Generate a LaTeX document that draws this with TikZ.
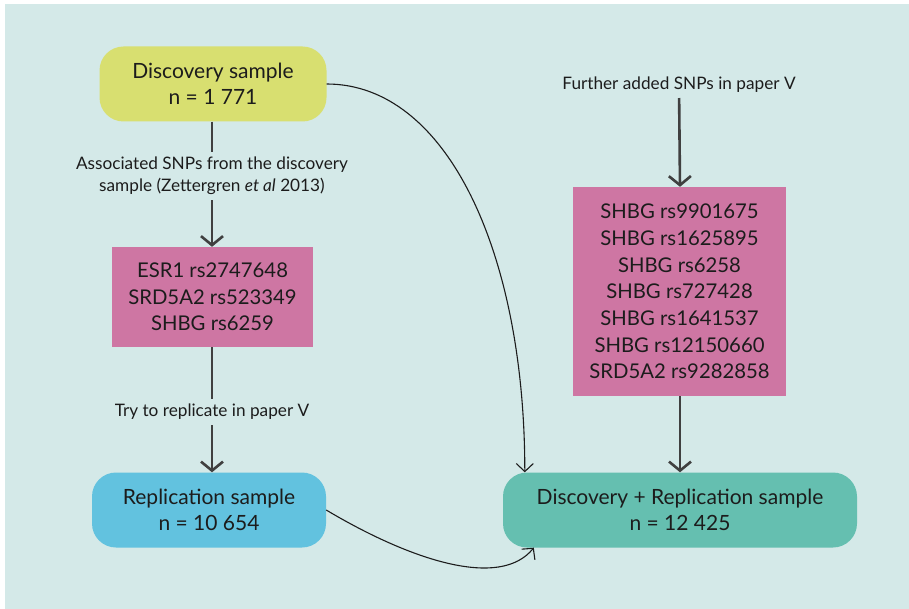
\documentclass[tikz,border=0pt]{standalone}
\usepackage{fontspec}
\setmainfont{Lato}
\usetikzlibrary{arrows.meta}

\definecolor{bgmint}{RGB}{212,233,232}
\definecolor{discyellow}{RGB}{216,223,112}
\definecolor{snppink}{RGB}{206,118,163}
\definecolor{repblue}{RGB}{98,194,223}
\definecolor{combgreen}{RGB}{101,191,176}
\definecolor{flowgray}{RGB}{64,64,64}
\definecolor{inkdark}{RGB}{28,28,28}

\tikzset{
  sample/.style={rounded corners=24pt, minimum height=75pt, inner sep=0pt,
    align=center, text=inkdark, font=\fontsize{21}{26}\selectfont},
  snpbox/.style={fill=snppink, inner sep=0pt, align=center, text=inkdark,
    font=\fontsize{20.3}{26.7}\selectfont},
  steplabel/.style={align=center, text=inkdark, inner sep=5pt,
    font=\fontsize{17.2}{22}\selectfont},
  mainflow/.style={draw=flowgray, line width=2.6pt},
  mainarrow/.style={mainflow, -{Straight Barb[length=9pt,width=22pt,line width=2.6pt]}},
  sidearrow/.style={draw=inkdark, line width=1.1pt,
    -{Straight Barb[length=8pt,width=17pt,line width=1.1pt]}}
}

\begin{document}
\begin{tikzpicture}[x=1pt,y=-1pt]
  % page and panel
  \fill[white] (0,0) rectangle (909,609);
  \fill[bgmint] (5,4) rectangle (909,609);
  \useasboundingbox (0,0) rectangle (909,609);

  % samples
  \node[sample, fill=discyellow, minimum width=227pt] (disc) at (213,84)
    {Discovery sample\\n = 1 771};
  \node[sample, fill=repblue, minimum width=234pt] (rep) at (209,510)
    {Replication sample\\n = 10 654};
  \node[sample, fill=combgreen, minimum width=354pt] (comb) at (680,510)
    {Discovery + Replication sample\\n = 12 425};

  % SNP lists
  \node[snpbox, minimum width=201pt, minimum height=100pt] (snpa) at (212.5,297)
    {ESR1 rs2747648\\SRD5A2 rs523349\\SHBG rs6259};
  \node[snpbox, minimum width=213pt, minimum height=209pt] (snpb) at (679.5,291.5)
    {SHBG rs9901675\\SHBG rs1625895\\SHBG rs6258\\SHBG rs727428\\SHBG rs1641537\\SHBG rs12150660\\SRD5A2 rs9282858};

  % step labels
  \node[steplabel] (assoc) at (212,176)
    {Associated SNPs from the discovery\\sample (Zettergren \textit{et al} 2013)};
  \node[steplabel] (try) at (212,412) {Try to replicate in paper V};
  \node[steplabel] (further) at (679,85) {Further added SNPs in paper V};

  % main flow
  \draw[mainflow] (disc.south -| assoc) -- (assoc);
  \draw[mainarrow] (assoc) -- (snpa.north -| assoc);
  \draw[mainflow] (snpa.south -| try) -- (try);
  \draw[mainarrow] (try) -- (rep.north -| try);
  \draw[mainarrow] (further) -- (snpb.north -| comb);
  \draw[mainarrow] (snpb.south -| comb) -- (comb.north);

  % pooled sample
  \coordinate (combtop) at ([xshift=22pt]comb.north west);
  \coordinate (combbot) at ([xshift=31pt]comb.south west);
  \draw[sidearrow] (disc.east) .. controls +(120,0) and +(0,-220) .. (combtop);
  \draw[sidearrow] (rep.east) .. controls +(84,50) and +(-34,42) .. (combbot);
\end{tikzpicture}
\end{document}
